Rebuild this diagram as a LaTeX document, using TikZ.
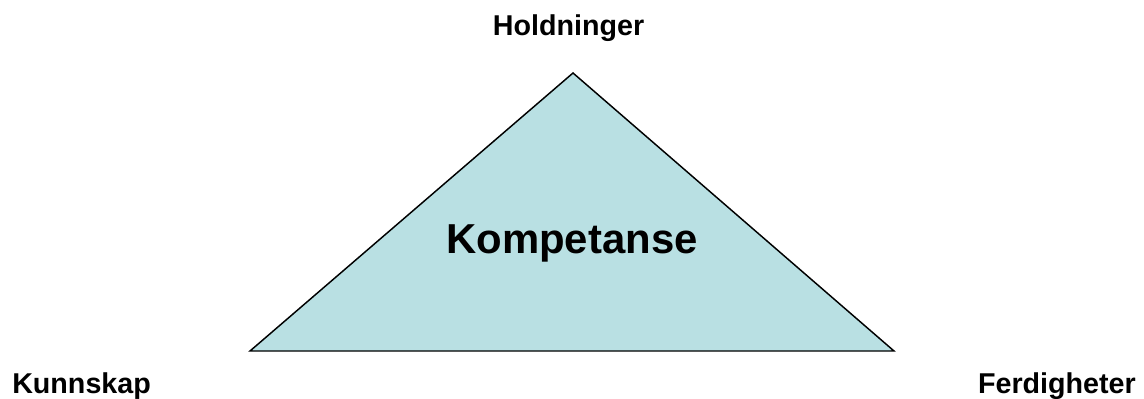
\documentclass[tikz,border=0pt]{standalone}
\usepackage{fontspec}
\setmainfont{Liberation Sans}
\usepackage{xcolor}
\definecolor{Canvas}{HTML}{FFFFFF}
\definecolor{Aqua}{HTML}{B9E0E3}
\definecolor{Ink}{HTML}{000000}
\tikzset{corner/.style={text=Ink,font=\bfseries\fontsize{21.5}{24}\selectfont,inner sep=0pt},core/.style={text=Ink,font=\bfseries\fontsize{31.4}{36}\selectfont,inner sep=0pt},edge/.style={draw=Ink,line width=1.1pt,line join=miter,fill=Aqua}}
\begin{document}
\begin{tikzpicture}[x=0.75pt,y=-0.75pt]
\fill[Canvas] (0,0) rectangle (1144,399);
\useasboundingbox (0,0) rectangle (1144,399);
\coordinate (T) at (573,73);\coordinate (L) at (250,351);\coordinate (R) at (894,351);
\draw[edge] (T)--(L)--(R)--cycle;
\node[core,anchor=base] (komp) at (572,253) {Kompetanse};
\node[corner,anchor=base] (hold) at (568.5,36) {Holdninger};
\node[corner,anchor=base west] (kunn) at (12,393) {Kunnskap};
\node[corner,anchor=base east] (ferd) at (1136,393) {Ferdigheter};
\end{tikzpicture}
\end{document}
